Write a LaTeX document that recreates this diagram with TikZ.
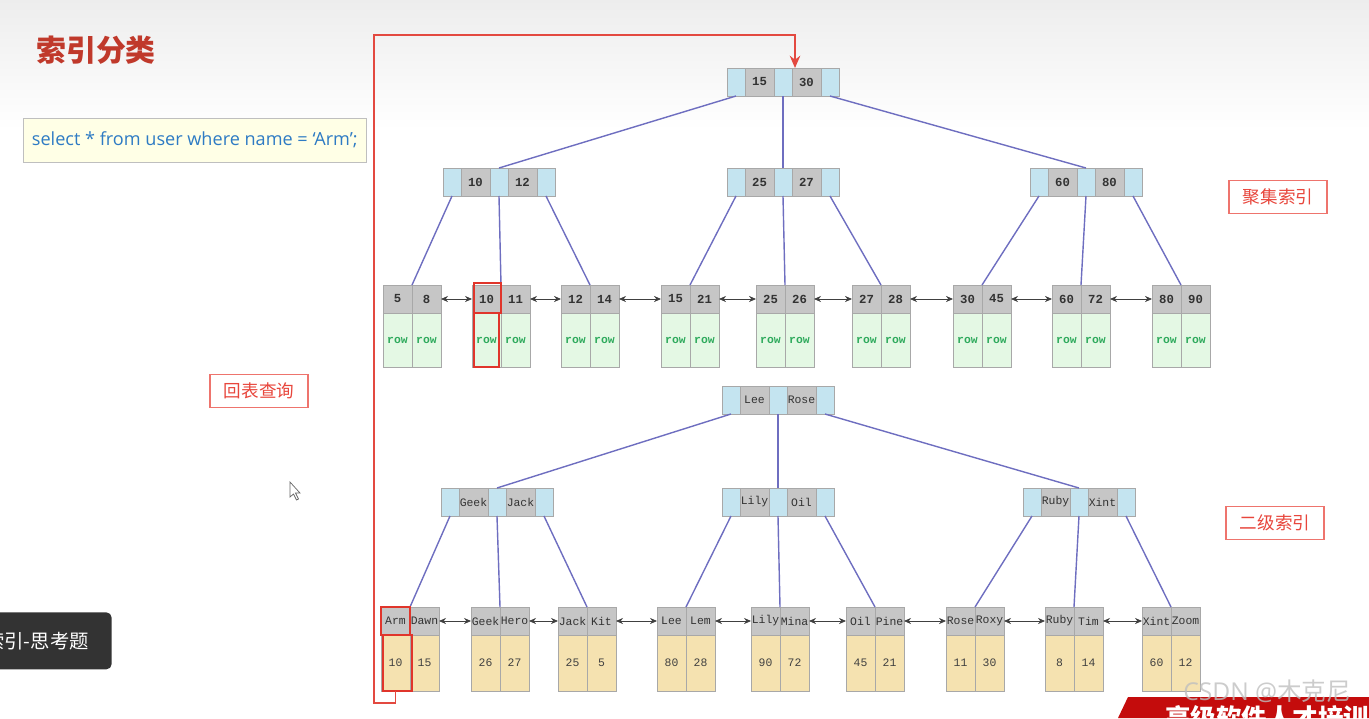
\documentclass[tikz,border=0pt]{standalone}
\usepackage{fontspec}
\setmainfont{Open Sans}
\setmonofont{Liberation Mono}
\newfontfamily\cjk{Noto Sans CJK SC}
\usetikzlibrary{positioning,arrows.meta}

\definecolor{ptrblue}{HTML}{C4E4F0}
\definecolor{keygray}{HTML}{C6C6C6}
\definecolor{cellline}{HTML}{A8A8A8}
\definecolor{rowgreen}{HTML}{E4F8E4}
\definecolor{rowtext}{HTML}{2EAA5C}
\definecolor{valtan}{HTML}{F5E2B0}
\definecolor{linkblue}{HTML}{6E6EC0}
\definecolor{hired}{HTML}{E0352B}
\definecolor{titlered}{HTML}{C0392B}
\definecolor{sqlblue}{HTML}{2E7BC4}
\definecolor{sqlbg}{HTML}{FFFFE6}
\definecolor{tagred}{HTML}{E8463C}
\definecolor{tipdark}{HTML}{333333}
\definecolor{bannerred}{HTML}{C40C0C}

\begin{document}
\begin{tikzpicture}[x=0.02cm, y=-0.02cm,
  cell/.style={draw=cellline, line width=0.5pt, inner sep=0pt, outer sep=0pt, minimum height=0.56cm},
  ptr/.style={cell, fill=ptrblue, minimum width=0.36cm},
  key/.style={cell, fill=keygray, minimum width=0.58cm, text=black!80, font=\ttfamily\bfseries\fontsize{7}{8}\selectfont},
  namecell/.style={key, font=\ttfamily\fontsize{6.5}{7}\selectfont},
  rowcell/.style={cell, fill=rowgreen, minimum width=0.58cm, minimum height=1.08cm, text=rowtext, font=\ttfamily\bfseries\fontsize{6.5}{7}\selectfont},
  valcell/.style={cell, fill=valtan, minimum width=0.58cm, minimum height=1.12cm, text=black!75, font=\ttfamily\fontsize{6.5}{7}\selectfont},
  link/.style={draw=linkblue, line width=0.8pt},
  sibling/.style={{Stealth[length=4pt,width=3.5pt]}-{Stealth[length=4pt,width=3.5pt]}, draw=black!75, line width=0.5pt},
  tag/.style={draw=tagred!75, line width=0.8pt, fill=white, text=tagred, minimum width=1.96cm, minimum height=0.66cm, font=\cjk\fontsize{10}{12}\selectfont},
  hilite/.style={draw=hired, line width=1.1pt},
  backlink/.style={draw=hired!90, line width=1pt}]
  \useasboundingbox (0,0) rectangle (1369,718);
  \clip (0,0) rectangle (1369,718);
  \shade[top color=black!7, bottom color=white] (0,0) rectangle (1369,130);

  % heading and query
  \node[anchor=west, inner sep=0pt, text=titlered, font=\cjk\bfseries\fontsize{17}{18}\selectfont] (title) at (36,50) {索引分类};
  \node[draw=black!25, fill=sqlbg, anchor=west, minimum width=6.86cm, minimum height=0.88cm, text=sqlblue, font=\fontsize{10.3}{12}\selectfont] (query) at (23,140) {select * from user where name = ‘Arm’;};

  % clustered index: inner nodes
  \foreach \n/\x/\y/\a/\b in {c0/727/68/15/30, c1/443/168/10/12, c2/727/168/25/27, c3/1030/168/60/80} {
    \node[ptr, anchor=north west] (\n-p1) at (\x,\y) {};
    \node[key, right=0pt of \n-p1] (\n-k1) {\a};
    \node[ptr, right=0pt of \n-k1] (\n-p2) {};
    \node[key, right=0pt of \n-p2] (\n-k2) {\b};
    \node[ptr, right=0pt of \n-k2] (\n-p3) {};
  }
  % clustered index: leaves
  \foreach \n/\x/\a/\b in {1/412/5/8, 2/501/10/11, 3/590/12/14, 4/690/15/21, 5/785/25/26, 6/881/27/28, 7/982/30/45, 8/1081/60/72, 9/1181/80/90} {
    \node[key, anchor=north east] (ck\n-a) at (\x,285) {\a};
    \node[key, right=0pt of ck\n-a] (ck\n-b) {\b};
    \node[rowcell, below=0pt of ck\n-a] (cr\n-a) {row};
    \node[rowcell, below=0pt of ck\n-b] (cr\n-b) {row};
  }
  \foreach \i in {1,2,3}
    \draw[link] (c0-p\i.south) -- (c\i-p2.north);
  \foreach \i in {1,2,3}
    \foreach \k in {1,2,3} {
      \pgfmathtruncatemacro\j{3*(\i-1)+\k}
      \draw[link] (c\i-p\k.south) -- (ck\j-a.north east);
    }
  \foreach \n [remember=\n as \p (initially 1)] in {2,...,9}
    \draw[sibling] (ck\p-b.east) -- (ck\n-a.west);

  % secondary index: inner nodes
  \foreach \n/\x/\y/\a/\b in {s0/722/386/Lee/Rose, s1/441/488/Geek/Jack, s2/722/488/Lily/Oil, s3/1023/488/Ruby/Xint} {
    \node[ptr, anchor=north west] (\n-p1) at (\x,\y) {};
    \node[namecell, right=0pt of \n-p1] (\n-k1) {\a};
    \node[ptr, right=0pt of \n-k1] (\n-p2) {};
    \node[namecell, right=0pt of \n-p2] (\n-k2) {\b};
    \node[ptr, right=0pt of \n-k2] (\n-p3) {};
  }
  % secondary index: leaves
  \foreach \n/\x/\a/\b/\u/\v in {1/410/Arm/Dawn/10/15, 2/500/Geek/Hero/26/27, 3/587/Jack/Kit/25/5, 4/686/Lee/Lem/80/28, 5/780/Lily/Mina/90/72, 6/875/Oil/Pine/45/21, 7/975/Rose/Roxy/11/30, 8/1074/Ruby/Tim/8/14, 9/1171/Xint/Zoom/60/12} {
    \node[namecell, anchor=north east] (sk\n-a) at (\x,607) {\a};
    \node[namecell, right=0pt of sk\n-a] (sk\n-b) {\b};
    \node[valcell, below=0pt of sk\n-a] (sv\n-a) {\u};
    \node[valcell, below=0pt of sk\n-b] (sv\n-b) {\v};
  }
  \foreach \i in {1,2,3}
    \draw[link] (s0-p\i.south) -- (s\i-p2.north);
  \foreach \i in {1,2,3}
    \foreach \k in {1,2,3} {
      \pgfmathtruncatemacro\j{3*(\i-1)+\k}
      \draw[link] (s\i-p\k.south) -- (sk\j-a.north east);
    }
  \foreach \n [remember=\n as \p (initially 1)] in {2,...,9}
    \draw[sibling] (sk\p-b.east) -- (sk\n-a.west);

  % tags
  \node[tag] (clustered) at (1278,197) {聚集索引};
  \node[tag] (secondary) at (1275,523) {二级索引};
  \node[tag] (lookup) at (259,391) {回表查询};

  % lookup path
  \draw[hilite] (sk1-a.north west) rectangle (sk1-a.south east);
  \draw[hilite] ([xshift=1pt]sv1-a.north west) rectangle ([xshift=1pt]sv1-a.south east);
  \draw[hilite] ([shift={(1pt,1pt)}]ck2-a.north west) rectangle (ck2-a.south east);
  \draw[hilite] ([xshift=1pt]cr2-a.north west) rectangle ([xshift=-1pt]cr2-a.south east);
  \coordinate (loopbot) at (374,703);
  \coordinate (looptop) at (374,35);
  \coordinate (entry) at (795,68);
  \draw[backlink, -{Stealth[length=7pt,width=6pt]}] (sv1-a.south) |- (loopbot) -- (looptop) -| (entry);

  % screen overlays
  \node[fill=tipdark, rounded corners=3pt, anchor=north east, inner xsep=0.46cm, minimum height=1.14cm, text=white, font=\cjk\fontsize{11}{13}\selectfont] (tip) at (112,612) {索引-思考题};
  \draw[black!60, fill=white, line width=0.4pt] (290,482) -- (290,497) -- (293.5,494) -- (296.5,500) -- (298.5,499) -- (295.5,493) -- (300,493) -- cycle;
  \fill[bannerred] (1128,697) -- (1369,697) -- (1369,718) -- (1118,718) -- cycle;
  \node[anchor=north west, inner sep=0pt, text=white, font=\cjk\bfseries\fontsize{14.5}{16}\selectfont] (banner) at (1165,705) {高级软件人才培训专家};
  \node[anchor=west, inner sep=0pt, text=black!25, opacity=0.8, font=\fontsize{14}{16}\selectfont] (mark) at (1183,691) {CSDN @{\cjk 木克尼}};
\end{tikzpicture}
\end{document}
